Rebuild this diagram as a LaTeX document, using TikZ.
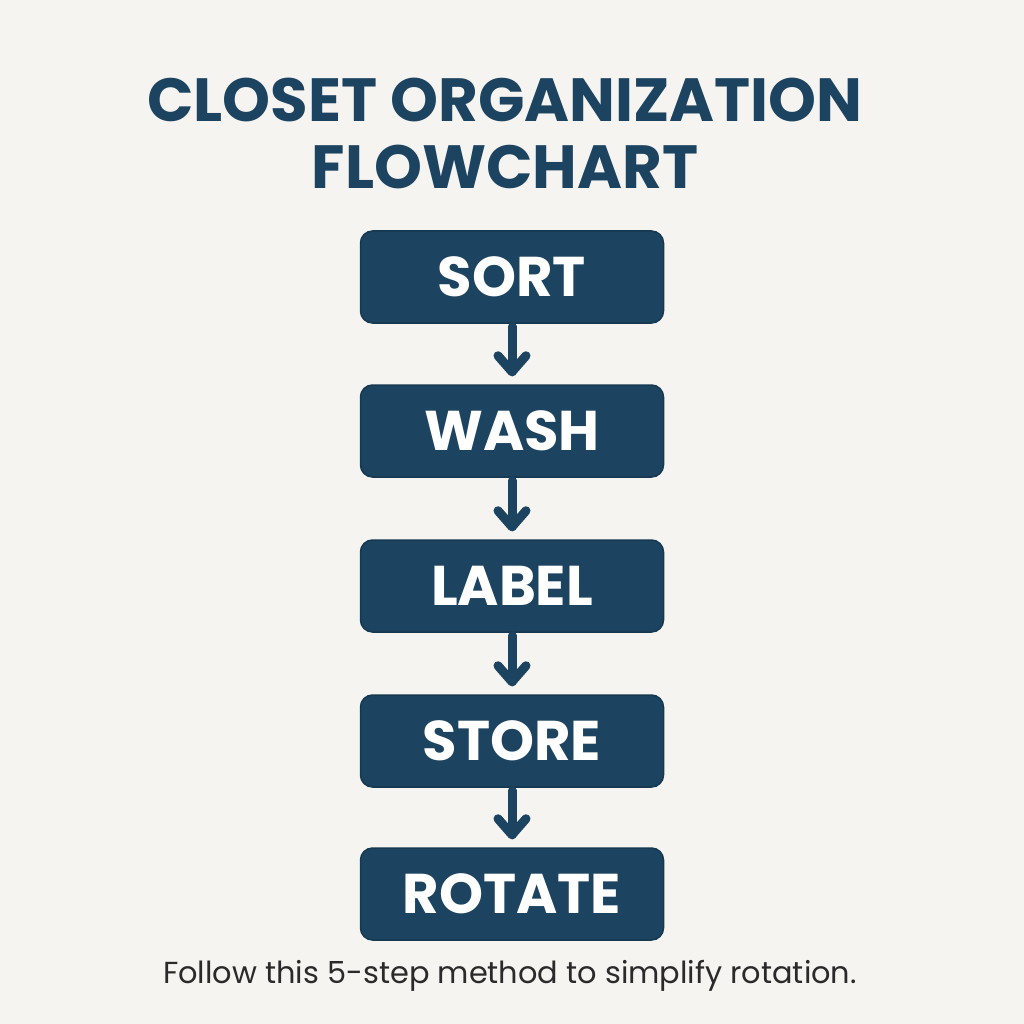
\documentclass[tikz,border=0pt]{standalone}
\usepackage{fontspec}
\setmainfont{Poppins}
\definecolor{bg}{HTML}{F6F4F1}
\definecolor{navy}{HTML}{1C4360}
\definecolor{navyedge}{HTML}{163850}
\definecolor{captxt}{HTML}{2A2A2A}
\tikzset{
  stepbox/.style={draw=navyedge, line width=1.5pt, fill=navy, rounded corners=12pt,
    minimum width=303pt, minimum height=92pt, inner sep=0pt, text=white,
    font=\fontsize{56}{56}\selectfont\bfseries},
  flowline/.style={draw=navy, line width=9pt, line cap=round, line join=round},
  titletxt/.style={text=navy, font=\fontsize{61}{67}\selectfont\bfseries, align=center},
  captiontxt/.style={text=captxt, font=\fontsize{30.4}{36}\selectfont}
}
\begin{document}
\begin{tikzpicture}[x=1pt,y=-1pt]
\useasboundingbox[fill=bg] (0,0) rectangle (1024,1024);
\node[titletxt] (title) at (505,133) {CLOSET ORGANIZATION\\FLOWCHART};
\node[stepbox] (sort) at (512,277) {SORT};
\node[stepbox] (wash) at (512,431) {WASH};
\node[stepbox] (label) at (512,586) {LABEL};
\node[stepbox] (store) at (512,741) {STORE};
\node[stepbox] (rotate) at (512,894) {ROTATE};
\foreach \a/\b/\t in {sort/wash/t1, wash/label/t2, label/store/t3, store/rotate/t4}{
  \coordinate (\t) at ([yshift=12.5pt]\b.north);
  \draw[flowline] ([yshift=-3pt]\a.south) -- (\t);
  \draw[flowline] ([xshift=-14pt,yshift=16pt]\t) -- (\t) -- ([xshift=14pt,yshift=16pt]\t);
}
\node[captiontxt] (caption) at (510,976) {Follow this 5-step method to simplify rotation.};
\end{tikzpicture}
\end{document}
